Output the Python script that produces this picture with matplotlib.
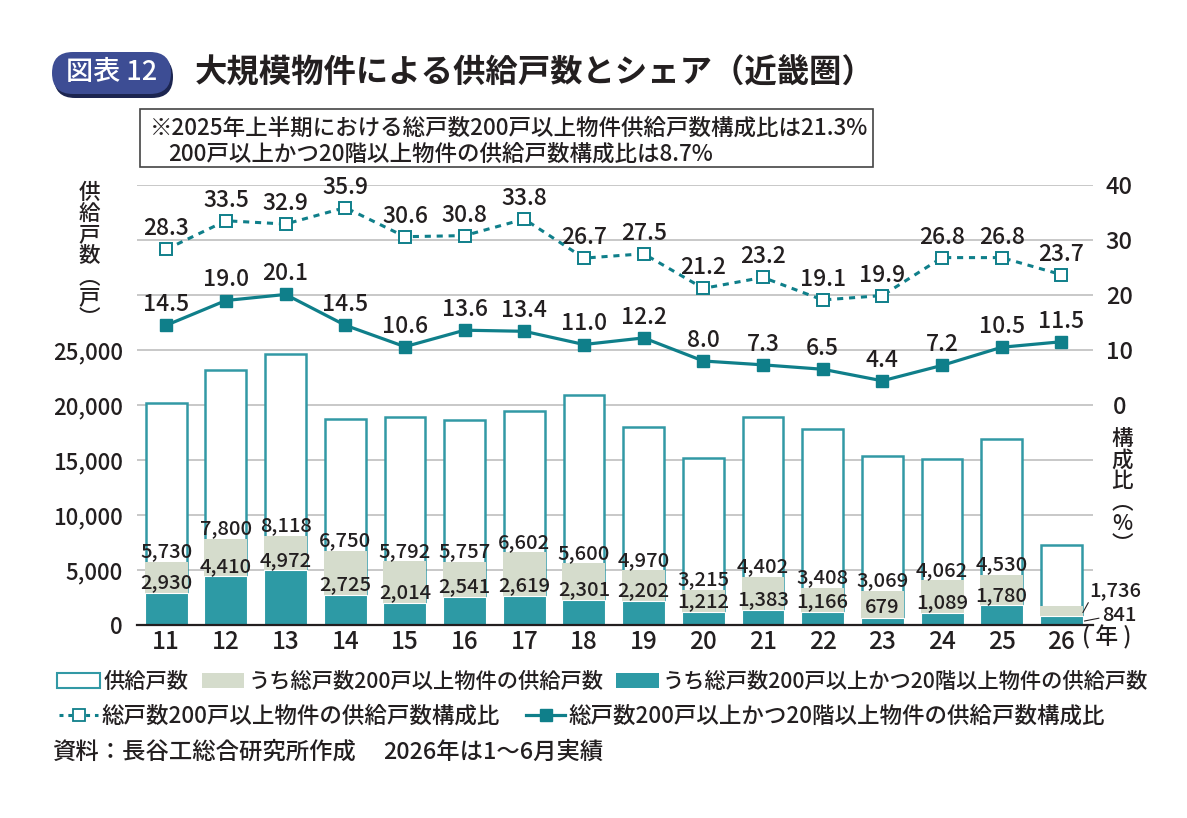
import matplotlib
matplotlib.use('Agg')
import matplotlib.pyplot as plt
from matplotlib.patches import Patch, FancyBboxPatch, Rectangle
from matplotlib.lines import Line2D
import numpy as np

plt.rcParams['font.family'] = ['Noto Sans CJK JP', 'DejaVu Sans']

# ---- data ----
years = ['11', '12', '13', '14', '15', '16', '17', '18', '19', '20', '21', '22', '23', '24', '25', '26']
total_units = [20200, 23200, 24650, 18750, 18900, 18650, 19500, 20900, 18000, 15150, 18900, 17850, 15400, 15100, 16900, 7300]
units_200 = [5730, 7800, 8118, 6750, 5792, 5757, 6602, 5600, 4970, 3215, 4402, 3408, 3069, 4062, 4530, 1736]
units_200_20f = [2930, 4410, 4972, 2725, 2014, 2541, 2619, 2301, 2202, 1212, 1383, 1166, 679, 1089, 1780, 841]
share_200 = [28.3, 33.5, 32.9, 35.9, 30.6, 30.8, 33.8, 26.7, 27.5, 21.2, 23.2, 19.1, 19.9, 26.8, 26.8, 23.7]
share_200_20f = [14.5, 19.0, 20.1, 14.5, 10.6, 13.6, 13.4, 11.0, 12.2, 8.0, 7.3, 6.5, 4.4, 7.2, 10.5, 11.5]

left_ticks = [0, 5000, 10000, 15000, 20000, 25000, 30000, 35000, 40000]
right_ticks = [0, 10, 20, 30, 40]

# ---- styles ----
TXT = '#231f20'
EDGE = '#3299a5'
GRAY = '#d5dccc'
TEAL = '#2d9aa5'
LINE = '#0f7f8a'
GRID = '#c8c8c8'
BADGE = '#3d4d94'
NUMW = 'medium'

W, H = 1187, 818
fig = plt.figure(figsize=(W / 100, H / 100), dpi=100)
fig.patch.set_facecolor('white')


def fx(px):
    return px / W


def fy(py):
    return 1 - py / H


ax = fig.add_axes([fx(137), fy(625), fx(1093) - fx(137), fy(185) - fy(625)])
x = np.arange(len(years))
bw = 0.72

ax.bar(x, total_units, width=bw - 0.035, facecolor='white', edgecolor=EDGE, linewidth=1.8, zorder=2)
ax.bar(x, units_200, width=bw, color=GRAY, edgecolor='none', zorder=3)
ax.bar(x, units_200_20f, width=bw, color=TEAL, edgecolor='white', linewidth=0.8, zorder=4)

ax.set_xlim(-0.49, 15.53)
ax.set_ylim(0, 40000)
ax.set_yticks(left_ticks)
ax.set_yticklabels([f'{v:,}' if v <= 25000 else '' for v in left_ticks])
ax.set_xticks(x)
ax.set_xticklabels(years)
ax.grid(axis='y', color=GRID, linewidth=1.4, zorder=0)
ax.set_axisbelow(True)
ax.tick_params(axis='y', length=0, pad=10, labelsize=16, labelcolor=TXT)
ax.tick_params(axis='x', length=0, pad=3, labelsize=17.5, labelcolor=TXT)
for lab in ax.get_xticklabels() + ax.get_yticklabels():
    lab.set_fontweight(NUMW)
for s in ['left', 'right', 'top']:
    ax.spines[s].set_visible(False)
ax.spines['bottom'].set_color(TXT)
ax.spines['bottom'].set_linewidth(1.6)
ax.spines['bottom'].set_zorder(6)

# bar labels
for i in range(len(years) - 1):
    ax.annotate(f'{units_200[i]:,}', (x[i], units_200[i]), xytext=(0, 0.5), textcoords='offset points',
                ha='center', va='bottom', fontsize=14.5, color=TXT, fontweight=NUMW, zorder=7)
    ax.annotate(f'{units_200_20f[i]:,}', (x[i], units_200_20f[i]), xytext=(0, 0.5), textcoords='offset points',
                ha='center', va='bottom', fontsize=14.5, color=TXT, fontweight=NUMW, zorder=7)
# last year: labels outside with leader lines
i = len(years) - 1
ax.annotate(f'{units_200[i]:,}', (x[i] + bw / 2, units_200[i] * 0.65), xytext=(23, 16), textcoords='offset points',
            ha='center', va='center', fontsize=14.5, color=TXT, fontweight=NUMW,
            arrowprops=dict(arrowstyle='-', color=TXT, lw=0.8, shrinkA=0, shrinkB=0, relpos=(0.05, 0.15)))
ax.annotate(f'{units_200_20f[i]:,}', (x[i] + bw / 2, units_200_20f[i] * 0.4), xytext=(26, 4), textcoords='offset points',
            ha='center', va='center', fontsize=14.5, color=TXT, fontweight=NUMW,
            arrowprops=dict(arrowstyle='-', color=TXT, lw=0.8, shrinkA=0, shrinkB=0, relpos=(0.0, 0.4)))

# right axis lines
ax2 = ax.twinx()
ax2.set_ylim(-40, 40)
ax2.set_yticks(right_ticks)
ax2.tick_params(axis='y', length=0, pad=19, labelsize=17, labelcolor=TXT)
for lab in ax2.get_yticklabels():
    lab.set_horizontalalignment('center')
    lab.set_fontweight(NUMW)
for s in ax2.spines.values():
    s.set_visible(False)

ax2.plot(x, share_200, linestyle=(0, (2.0, 1.9)), color=LINE, linewidth=2.2, marker='s', markersize=9,
         markerfacecolor='white', markeredgecolor=LINE, markeredgewidth=1.4, zorder=5)
ax2.plot(x, share_200_20f, linestyle='-', color=LINE, linewidth=2.3, marker='s', markersize=9,
         markerfacecolor=LINE, markeredgecolor=LINE, zorder=5)
for i in range(len(years)):
    ax2.annotate(f'{share_200[i]:.1f}', (x[i], share_200[i]), xytext=(0, 6.5), textcoords='offset points',
                 ha='center', va='bottom', fontsize=16.5, color=TXT, fontweight=NUMW)
    ax2.annotate(f'{share_200_20f[i]:.1f}', (x[i], share_200_20f[i]), xytext=(0, 6.5), textcoords='offset points',
                 ha='center', va='bottom', fontsize=16.5, color=TXT, fontweight=NUMW)

# axis titles (vertical)
fig.text(fx(89), fy(256), '供\n給\n戸\n数\n︵\n戸\n︶', ha='center', va='center', fontsize=15.5, color=TXT,
         linespacing=0.95, fontweight=NUMW)
fig.text(fx(1122), fy(492), '構\n成\n比\n︵\n%\n︶', ha='center', va='center', fontsize=15.5, color=TXT,
         linespacing=0.95, fontweight=NUMW)
fig.text(fx(1107), fy(637), '( 年 )', ha='center', va='center', fontsize=16.5, color=TXT, fontweight=NUMW)

# title badge
shadow = FancyBboxPatch((0.54, 7.20), 1.19, 0.42, boxstyle='round,pad=0,rounding_size=0.21',
                        transform=fig.dpi_scale_trans, facecolor='#1c2550', edgecolor='none')
badge = FancyBboxPatch((0.52, 7.24), 1.19, 0.42, boxstyle='round,pad=0,rounding_size=0.21',
                       transform=fig.dpi_scale_trans, facecolor=BADGE, edgecolor='none')
fig.patches.extend([shadow, badge])
fig.text(fx(112), fy(73), '図表 12', ha='center', va='center', fontsize=19.5, color='white', fontweight=NUMW)
fig.text(fx(195), fy(73), '大規模物件による供給戸数とシェア（近畿圏）', ha='left', va='center',
         fontsize=23.3, color=TXT, fontweight='bold')

# note box
fig.patches.append(Rectangle((fx(140), fy(167)), fx(873) - fx(140), fy(109) - fy(167), transform=fig.transFigure,
                             fill=False, edgecolor='#444444', linewidth=1.2))
fig.text(fx(150), fy(128), '※2025年上半期における総戸数200戸以上物件供給戸数構成比は21.3%', ha='left', va='center',
         fontsize=16.2, color=TXT, fontweight=NUMW)
fig.text(fx(168), fy(154), '200戸以上かつ20階以上物件の供給戸数構成比は8.7%', ha='left', va='center',
         fontsize=16.2, color=TXT, fontweight=NUMW)

# legends
h1 = [Patch(facecolor='white', edgecolor=EDGE, linewidth=1.5),
      Patch(facecolor=GRAY, edgecolor='none'),
      Patch(facecolor=TEAL, edgecolor='none')]
l1 = ['供給戸数', 'うち総戸数200戸以上物件の供給戸数', 'うち総戸数200戸以上かつ20階以上物件の供給戸数']
h2 = [Line2D([], [], linestyle=(0, (1.3, 1.6)), color=LINE, linewidth=2.2, marker='s', markersize=8,
             markerfacecolor='white', markeredgecolor=LINE, markeredgewidth=1.3),
      Line2D([], [], linestyle='-', color=LINE, linewidth=2.3, marker='s', markersize=8,
             markerfacecolor=LINE, markeredgecolor=LINE)]
l2 = ['総戸数200戸以上物件の供給戸数構成比', '総戸数200戸以上かつ20階以上物件の供給戸数構成比']
leg1 = fig.legend(h1, l1, loc='center left', bbox_to_anchor=(fx(57), fy(682)), ncol=3, frameon=False,
                  fontsize=15.3, handlelength=2.0, handleheight=0.7, handletextpad=0.2, columnspacing=0.6,
                  borderpad=0, borderaxespad=0, prop={'size': 15.3, 'weight': NUMW})
for t in leg1.get_texts():
    t.set_color(TXT)
leg2 = fig.legend(h2, l2, loc='center left', bbox_to_anchor=(fx(59), fy(716)), ncol=2, frameon=False,
                  handlelength=1.75, handletextpad=0.15, columnspacing=1.15,
                  borderpad=0, borderaxespad=0, prop={'size': 16.2, 'weight': NUMW})
for t in leg2.get_texts():
    t.set_color(TXT)

# footer
fig.text(fx(52), fy(752), '資料：長谷工総合研究所作成', ha='left', va='center', fontsize=16.8, color=TXT, fontweight=NUMW)
fig.text(fx(383), fy(752), '2026年は1～6月実績', ha='left', va='center', fontsize=16.8, color=TXT, fontweight=NUMW)

fig.savefig('out.png', dpi=100, facecolor='white')
